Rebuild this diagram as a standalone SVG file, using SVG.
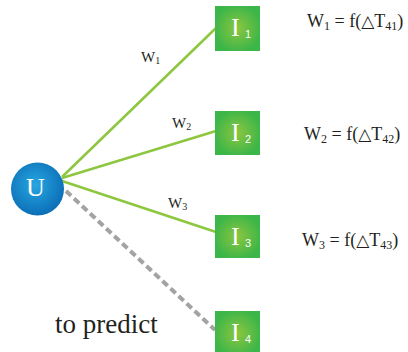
<svg xmlns="http://www.w3.org/2000/svg" width="408" height="352" viewBox="0 0 408 352">
<defs>
<radialGradient id="gBox" cx="0.5" cy="0.5" r="0.7">
<stop offset="0" stop-color="#8cc63f"/>
<stop offset="0.75" stop-color="#3db649"/>
</radialGradient>
<radialGradient id="gU" cx="0.45" cy="0.42" r="0.6">
<stop offset="0" stop-color="#27a7e1"/>
<stop offset="1" stop-color="#0b6db6"/>
</radialGradient>
</defs>
<style>
.edge{stroke:#8dc63f;stroke-width:2.5;fill:none}
.dash{stroke:#a3a3a3;stroke-width:4;stroke-dasharray:7 4;fill:none}
.box{fill:url(#gBox)}
</style>
<g id="connectors">
<line class="edge" x1="62" y1="177" x2="216" y2="28"/>
<line class="edge" x1="62" y1="178" x2="216" y2="131"/>
<line class="edge" x1="62" y1="181" x2="216" y2="232"/>
<line class="dash" x1="66" y1="191" x2="215" y2="330"/>
<g font-family="Liberation Serif, serif" font-size="15" fill="#231f20">
<text x="141" y="62">W<tspan font-size="10" dy="2">1</tspan></text>
<text x="172" y="128">W<tspan font-size="10" dy="2">2</tspan></text>
<text x="168" y="208">W<tspan font-size="10" dy="2">3</tspan></text>
</g>
</g>
<g id="U">
<circle cx="37.5" cy="189" r="26.5" fill="url(#gU)"/>
<text font-family="Liberation Serif, serif" font-size="26" fill="#fff" x="35.5" y="196" text-anchor="middle">U</text>
</g>
<g id="I1">
<rect class="box" x="215" y="6" width="45" height="45"/>
<text font-family="Liberation Serif, serif" font-size="26" fill="#fff" x="231" y="36">I</text><text font-family="Liberation Sans, sans-serif" font-size="11" fill="#fff" x="245" y="38">1</text>
</g>
<g id="I2">
<rect class="box" x="215" y="111" width="45" height="44"/>
<text font-family="Liberation Serif, serif" font-size="26" fill="#fff" x="231" y="141">I</text><text font-family="Liberation Sans, sans-serif" font-size="11" fill="#fff" x="245" y="143">2</text>
</g>
<g id="I3">
<rect class="box" x="215" y="215" width="45" height="43"/>
<text font-family="Liberation Serif, serif" font-size="26" fill="#fff" x="231" y="245">I</text><text font-family="Liberation Sans, sans-serif" font-size="11" fill="#fff" x="245" y="247">3</text>
</g>
<g id="I4">
<rect class="box" x="215" y="311" width="45" height="45"/>
<text font-family="Liberation Serif, serif" font-size="26" fill="#fff" x="231" y="341">I</text><text font-family="Liberation Sans, sans-serif" font-size="11" fill="#fff" x="245" y="343">4</text>
</g>
<g id="labels" font-family="Liberation Serif, serif" fill="#231f20">
<text font-size="18" x="307" y="27">W<tspan font-size="12" dy="3">1</tspan><tspan dy="-3"> = f(</tspan><tspan font-family="DejaVu Sans, sans-serif" font-size="17">△</tspan><tspan>T</tspan><tspan font-size="12" dy="3">41</tspan><tspan dy="-3">)</tspan></text>
<text font-size="18" x="304" y="140">W<tspan font-size="12" dy="3">2</tspan><tspan dy="-3"> = f(</tspan><tspan font-family="DejaVu Sans, sans-serif" font-size="17">△</tspan><tspan>T</tspan><tspan font-size="12" dy="3">42</tspan><tspan dy="-3">)</tspan></text>
<text font-size="18" x="302" y="246">W<tspan font-size="12" dy="3">3</tspan><tspan dy="-3"> = f(</tspan><tspan font-family="DejaVu Sans, sans-serif" font-size="17">△</tspan><tspan>T</tspan><tspan font-size="12" dy="3">43</tspan><tspan dy="-3">)</tspan></text>
<text font-size="27" x="55" y="333">to predict</text>
</g>
</svg>
